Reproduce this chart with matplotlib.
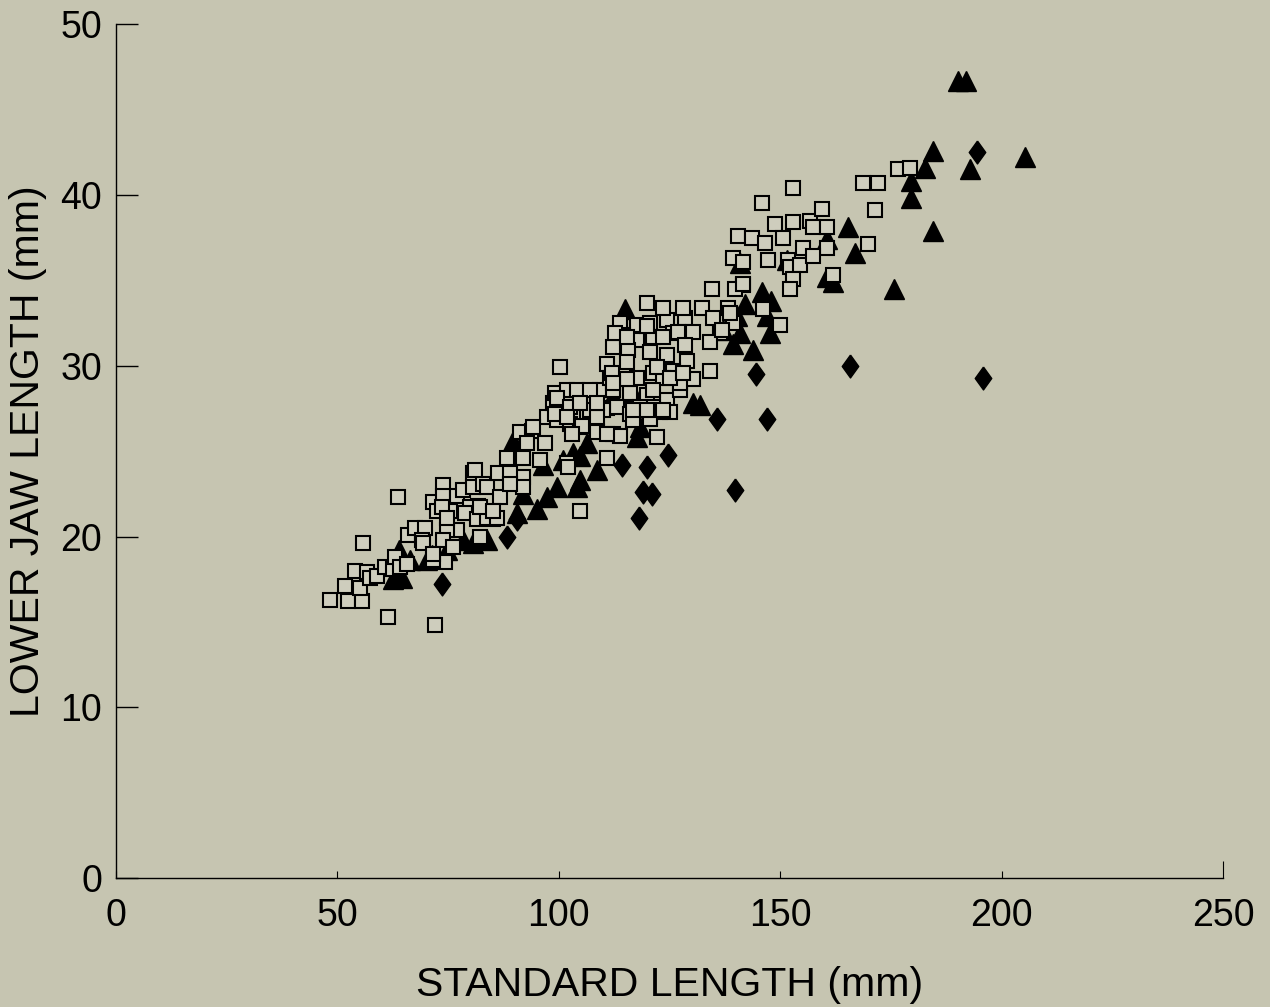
import numpy as np
import matplotlib.pyplot as plt

# lower jaw length vs standard length, three groups

# open squares
sq_sl = [48.3, 52.4, 55.6, 51.7, 55.1, 54.0, 56.7, 57.4, 58.9, 60.7, 62.6, 55.8, 61.4, 72.0,
         63.7, 63.0, 64.1, 65.7, 65.9, 67.5, 69.8, 69.1, 71.6, 72.5, 73.8, 73.8, 75.4, 77.0,
         78.4, 80.6, 80.6, 82.9, 81.8, 79.9, 77.0, 74.8, 73.8, 82.2, 85.1, 76.1, 74.3, 71.6,
         69.3, 71.6, 78.8, 81.5, 83.8, 86.0, 81.1, 83.8, 86.3, 82.2, 86.7, 73.6, 74.8,
         88.3, 91.9, 95.8, 91.9, 91.9, 91.2, 93.9, 92.8, 96.9, 97.3, 98.7, 99.1, 101.9, 103.2,
         99.6, 101.9, 104.8, 89.0, 89.0, 85.1, 100.3, 99.6, 104.1, 99.1, 102.5, 102.5, 104.8,
         94.2, 102.1,
         109.3, 112.2, 116.1, 119.9, 124.4, 127.4, 130.3, 107.0, 110.9, 113.1, 116.1, 121.3,
         125.1, 108.6, 112.2, 113.8, 116.8, 122.2, 110.9, 113.8, 117.7, 120.6, 124.4, 128.5,
         114.5, 117.7, 121.3, 125.8, 130.3, 112.2, 115.6, 120.6, 124.4, 129.0, 110.9, 115.4,
         117.7, 121.3, 125.8, 111.6, 119.9, 123.5, 128.0, 136.4, 115.4, 123.5, 127.4, 110.0,
         118.3, 122.9, 101.9, 105.2, 108.6, 120.6, 103.0, 110.9,
         119.9, 112.7, 115.4, 123.5, 126.9, 128.5, 112.0, 122.2, 125.1, 128.0, 107.0, 112.2,
         121.3, 104.8, 108.6, 116.8, 119.9, 123.5,
         132.3, 134.6, 141.6, 138.2, 134.8, 139.3, 146.1, 134.1, 134.1, 152.9, 145.9, 148.8,
         152.9, 156.7, 140.5, 143.6, 146.6, 150.6, 155.1, 139.3, 141.6, 147.2, 151.8, 152.2,
         154.5, 152.9, 152.2, 139.8, 141.6, 138.7, 136.9, 150.0,
         157.4, 159.4, 160.6, 160.6, 157.4, 161.9, 169.8, 168.7, 172.1, 176.6, 179.3, 171.4]
sq_jaw = [16.3, 16.2, 16.2, 17.1, 17.0, 18.0, 17.9, 17.6, 17.7, 18.2, 18.1, 19.6, 15.3, 14.8,
          22.3, 18.8, 18.2, 18.4, 20.1, 20.5, 20.5, 19.8, 22.0, 21.5, 23.0, 22.4, 21.5, 22.4,
          22.7, 23.7, 22.9, 23.1, 21.8, 21.7, 20.4, 20.4, 19.8, 20.0, 21.0, 19.4, 18.5, 18.6,
          19.6, 19.0, 21.4, 21.0, 21.1, 21.1, 23.9, 22.9, 23.7, 21.7, 22.3, 21.7, 21.1,
          24.6, 24.6, 24.5, 23.5, 22.9, 26.1, 26.2, 25.5, 25.5, 27.0, 27.8, 28.4, 28.6, 27.2,
          26.8, 24.3, 21.5, 23.7, 23.1, 21.5, 29.9, 28.1, 28.6, 27.2, 27.6, 26.6, 26.4,
          26.4, 24.1,
          28.6, 28.6, 28.4, 28.3, 28.0, 28.6, 29.2, 27.4, 27.5, 27.6, 27.2, 27.6,
          27.3, 26.1, 26.0, 25.9, 26.8, 25.8, 24.6, 32.5, 32.4, 32.5, 32.7, 32.8,
          31.8, 31.5, 31.7, 31.9, 32.0, 31.1, 30.9, 30.8, 30.6, 30.3, 30.1, 30.2,
          29.3, 29.6, 29.7, 29.3, 33.7, 33.4, 33.4, 31.9, 29.2, 29.3, 29.0, 27.4,
          27.6, 27.3, 27.0, 26.5, 27.0, 26.9, 26.0, 26.0,
          32.3, 31.9, 31.7, 31.7, 32.0, 31.2, 29.6, 29.9, 29.3, 29.6, 28.6, 29.0,
          28.6, 27.8, 27.8, 27.4, 27.4, 27.4,
          33.4, 34.5, 34.7, 33.4, 32.8, 32.5, 33.3, 31.4, 29.7, 40.4, 39.5, 38.3,
          38.4, 38.5, 37.6, 37.5, 37.2, 37.5, 36.9, 36.3, 36.1, 36.2, 36.2, 35.8,
          35.9, 35.1, 34.5, 34.5, 34.8, 33.1, 32.1, 32.4,
          38.1, 39.2, 38.1, 36.9, 36.4, 35.3, 37.1, 40.7, 40.7, 41.5, 41.6, 39.1]

# filled triangles
tri_sl = [190.2, 192.0, 205.3, 192.9, 184.5, 182.7, 179.5, 179.5, 184.5, 175.7, 165.3, 166.9,
          160.6, 161.9, 160.6, 145.9, 147.9, 147.0, 147.7, 140.2, 140.9, 151.5, 115.0, 130.3,
          131.9, 143.9, 139.3, 137.1, 140.9, 106.4, 103.2, 100.9, 104.8, 97.3, 99.6, 95.1,
          104.1, 104.8, 108.6, 117.7, 118.3, 112.2, 116.8, 90.6, 91.9, 89.7, 63.9, 62.6, 64.6,
          70.2, 74.8, 78.4, 80.6, 83.8, 66.4, 71.4, 96.4, 142.1]
tri_jaw = [46.7, 46.7, 42.2, 41.5, 42.6, 41.6, 40.8, 39.8, 37.9, 34.5, 38.1, 36.6,
           35.2, 34.9, 37.4, 34.3, 33.8, 32.9, 31.9, 32.9, 36.0, 36.2, 33.3, 27.8,
           27.7, 30.9, 31.3, 32.1, 31.9, 25.5, 24.9, 24.5, 24.7, 22.3, 22.9, 21.6,
           22.9, 23.3, 23.9, 25.8, 26.4, 28.2, 28.4, 21.4, 22.5, 25.6, 19.2, 17.5, 17.6,
           18.6, 19.2, 19.8, 19.6, 19.8, 18.6, 18.9, 24.2, 33.6]

# filled diamonds
dia_sl = [73.6, 88.3, 90.6, 114.3, 119.9, 124.7, 119.0, 121.0, 118.1, 135.7, 144.5, 147.0,
          139.8, 165.8, 195.8, 194.4]
dia_jaw = [17.2, 20.0, 21.0, 24.2, 24.1, 24.8, 22.6, 22.5, 21.1, 26.9, 29.5, 26.9,
           22.7, 30.0, 29.3, 42.5]

bg = '#c6c5b1'
plt.rcParams['font.family'] = ['Liberation Sans', 'DejaVu Sans']

fig = plt.figure(figsize=(12.7, 10.07), dpi=100, facecolor=bg)
ax = fig.add_axes([0.0913, 0.128, 0.8717, 0.848])
ax.set_facecolor(bg)

diamond = [(0, 1), (0.72, 0), (0, -1), (-0.72, 0), (0, 1)]

ax.plot(tri_sl, tri_jaw, ls='none', marker='^', ms=15, mfc='black', mec='black', zorder=2)
ax.plot(dia_sl, dia_jaw, ls='none', marker=diamond, ms=16.5, mfc='black', mec='black', zorder=3)
ax.plot(sq_sl, sq_jaw, ls='none', marker='s', ms=10.5, mfc='#cecdbd', mec='black', mew=1.5, zorder=4)

ax.set_xlim(0, 250)
ax.set_ylim(0, 50)
ax.set_xticks([0, 50, 100, 150, 200, 250])
ax.set_yticks([0, 10, 20, 30, 40, 50])
ax.spines['top'].set_visible(False)
ax.spines['right'].set_visible(False)
for s in ['left', 'bottom']:
    ax.spines[s].set_linewidth(1.0)
ax.tick_params(axis='x', direction='in', length=5, width=0.8, pad=14, labelsize=27)
ax.tick_params(axis='y', direction='in', length=16, width=1.0, pad=10, labelsize=27)
ax.xaxis.get_major_ticks()[-1].tick1line.set_markersize(12)

ax.set_xlabel('STANDARD LENGTH (mm)', fontsize=29.5)
ax.set_ylabel('LOWER JAW LENGTH (mm)', fontsize=29.5)
ax.xaxis.set_label_coords(0.5, -0.103)
ax.yaxis.set_label_coords(-0.062, 0.5)

fig.savefig('out.png', dpi=100, facecolor=bg)
